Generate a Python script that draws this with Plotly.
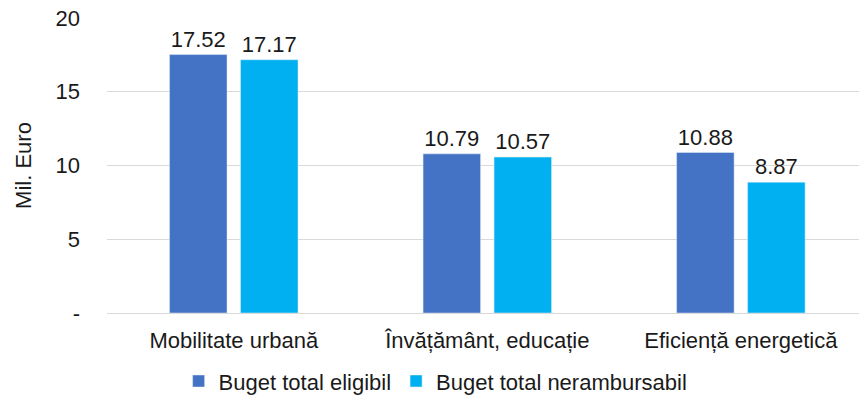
import plotly.graph_objects as go

# date
categorii = ["Mobilitate urbană", "Învățământ, educație", "Eficiență energetică"]
buget_eligibil = [17.52, 10.79, 10.88]
buget_nerambursabil = [17.17, 10.57, 8.87]
tick_vals = [0, 5, 10, 15, 20]
tick_text = ["-", "5", "10", "15", "20"]

font_txt = dict(family="Liberation Sans, Arial, sans-serif", size=22, color="#1a1a1a")

fig = go.Figure()
fig.add_trace(go.Bar(x=categorii, y=buget_eligibil, name="Buget total eligibil",
                     marker_color="#4472C4",
                     text=[f"{v:.2f}" for v in buget_eligibil], textposition="outside",
                     textfont=font_txt, cliponaxis=False))
fig.add_trace(go.Bar(x=categorii, y=buget_nerambursabil, name="Buget total nerambursabil",
                     marker_color="#00B0F0",
                     text=[f"{v:.2f}" for v in buget_nerambursabil], textposition="outside",
                     textfont=font_txt, cliponaxis=False))

fig.update_layout(
    width=859, height=408,
    margin=dict(l=107, r=0, t=18, b=95),
    plot_bgcolor="white", paper_bgcolor="white",
    barmode="group", bargap=0.44, bargroupgap=0.19,
    font=font_txt,
    showlegend=True,
    legend=dict(orientation="h", x=0.437, xanchor="center", y=-0.16, yanchor="top",
                font=dict(size=22), itemwidth=30, traceorder="normal",
                tracegroupgap=0),
    uniformtext=dict(mode=False),
)
fig.update_yaxes(range=[0, 20], tickvals=tick_vals, ticktext=tick_text,
                 showgrid=True, gridcolor="#d9d9d9", gridwidth=1,
                 zeroline=True, zerolinecolor="#d9d9d9", zerolinewidth=1,
                 ticks="", ticklabelstandoff=26,
                 title=dict(text="Mil. Euro", font=dict(size=22), standoff=17),
                 tickfont=dict(size=22))
fig.update_xaxes(range=[-0.5, 2.466], showline=False, ticks="",
                 tickfont=dict(size=22), ticklabelstandoff=12)

# fara marginea implicita a paginii, fara modebar
fig.write_html("out.html", config={"displayModeBar": False},
               post_script="document.body.style.margin='0';")
